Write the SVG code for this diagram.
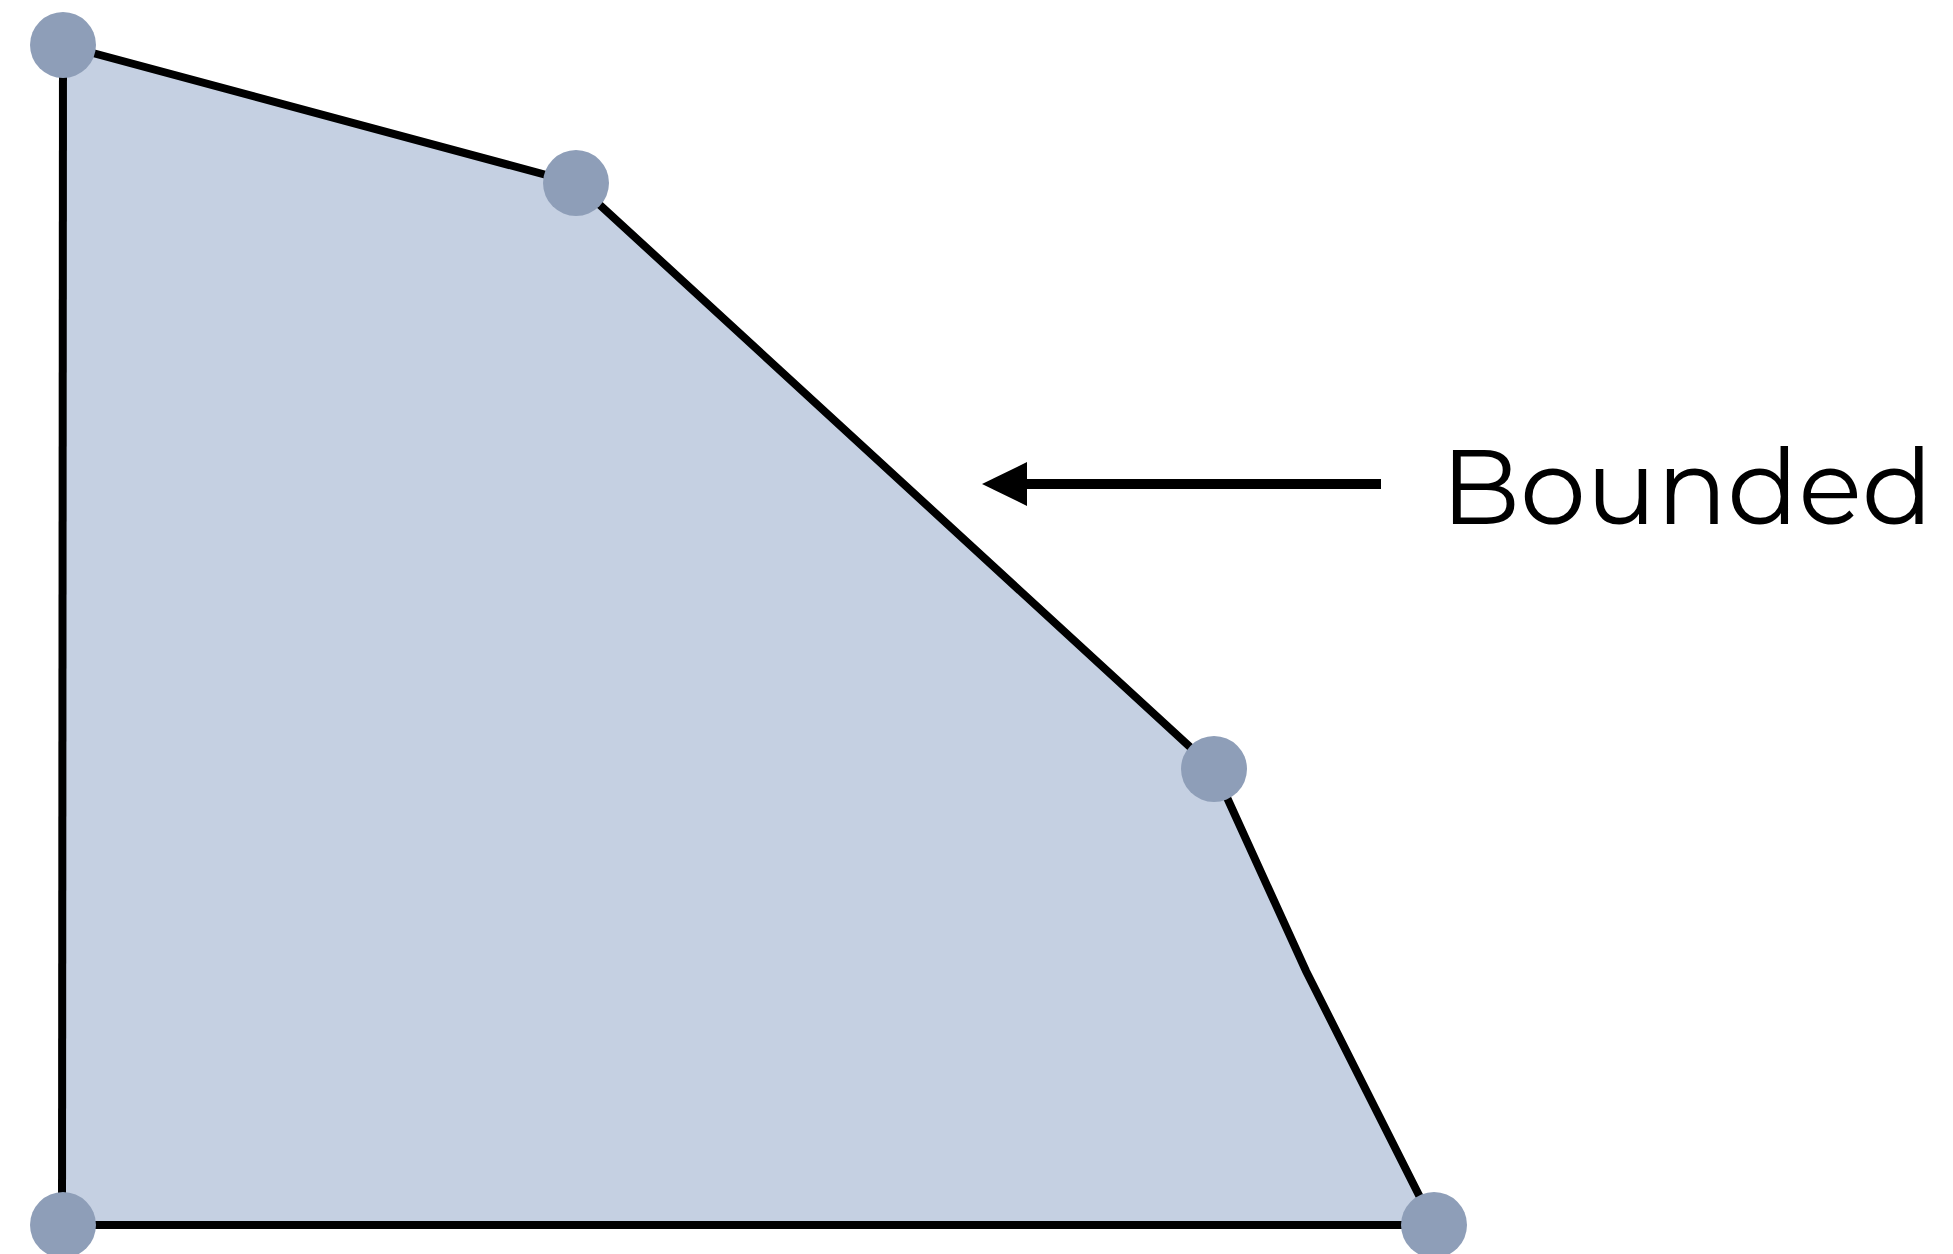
<svg xmlns="http://www.w3.org/2000/svg" width="1953" height="1254" viewBox="0 0 1953 1254">
<style>
.edge{fill:none;stroke:#000;stroke-width:8;stroke-linejoin:miter}
.vertex{fill:#8E9EB8}
.label{font-family:"Montserrat","Open Sans","Liberation Sans",sans-serif;font-size:106px;fill:#000}
</style>
<defs>
<marker id="ah" markerUnits="userSpaceOnUse" markerWidth="46" markerHeight="46" refX="0" refY="22" orient="auto" overflow="visible">
<path d="M-1,0 L44,22 L-1,44 Z" fill="#000"/>
</marker>
</defs>
<rect width="1953" height="1254" fill="#fff"/>
<g id="region">
<polygon points="63,45 576,183 1214,769 1306,971 1434,1225 63,1225" fill="#C5D0E2"/>
</g>
<g id="connectors">
<polyline class="edge" points="63,45 576,183 1214,769 1306,971 1434,1225"/>
<line class="edge" x1="63" y1="45" x2="62" y2="1225"/>
<line class="edge" x1="62" y1="1225" x2="1434" y2="1225"/>
<line x1="1381" y1="484" x2="1026" y2="484" stroke="#000" stroke-width="10" marker-end="url(#ah)"/>
</g>
<g id="v1"><circle class="vertex" cx="63" cy="45" r="33"/></g>
<g id="v2"><circle class="vertex" cx="576" cy="183" r="33"/></g>
<g id="v3"><circle class="vertex" cx="1214" cy="769" r="33"/></g>
<g id="v4"><circle class="vertex" cx="1434" cy="1225" r="33"/></g>
<g id="v5"><circle class="vertex" cx="63" cy="1225" r="33"/></g>
<g id="label"><text class="label" x="1441" y="524" textLength="492" lengthAdjust="spacingAndGlyphs">Bounded</text></g>
</svg>
